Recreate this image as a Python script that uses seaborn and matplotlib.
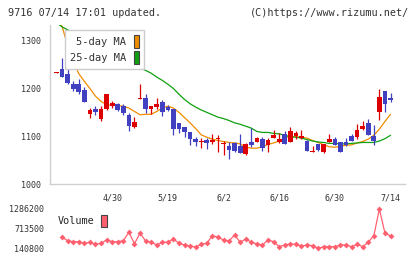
import numpy as np
import matplotlib
matplotlib.use("Agg")
import matplotlib.pyplot as plt
from matplotlib.patches import Patch
import seaborn as sns

# trading day index 0..60, labels every 10 days
days = np.arange(61)
date_pos = [10, 20, 30, 40, 50, 60]
date_labels = ["4/30", "5/19", "6/2", "6/16", "6/30", "7/14"]

opens = [1233, 1241, 1231, 1209, 1209, 1197, 1147, 1157, 1137, 1158,
         1164, 1168, 1164, 1145, 1120, 1178, 1180, 1158, 1161, 1172,
         1161, 1157, 1128, 1120, 1109, 1094, 1087, 1092, 1089, 1095,
         1083, 1080, 1085, 1080, 1063, 1088, 1089, 1095, 1081, 1097,
         1089, 1104, 1087, 1101, 1097, 1090, 1067, 1084, 1068, 1089,
         1094, 1088, 1088, 1101, 1099, 1115, 1127, 1101, 1150, 1195,
         1180]
closes = [1235, 1225, 1212, 1198, 1192, 1171, 1154, 1150, 1157, 1189,
          1170, 1154, 1148, 1122, 1130, 1181, 1157, 1164, 1168, 1150,
          1154, 1116, 1116, 1108, 1094, 1089, 1088, 1085, 1090, 1096,
          1084, 1071, 1069, 1065, 1084, 1082, 1096, 1076, 1092, 1103,
          1094, 1084, 1111, 1106, 1100, 1069, 1068, 1071, 1084, 1094,
          1082, 1066, 1082, 1091, 1113, 1122, 1103, 1090, 1182, 1168,
          1176]
highs = [1235, 1264, 1241, 1216, 1220, 1204, 1159, 1163, 1163, 1189,
         1173, 1169, 1167, 1149, 1140, 1210, 1189, 1164, 1180, 1176,
         1165, 1157, 1128, 1120, 1109, 1098, 1096, 1096, 1105, 1102,
         1091, 1089, 1088, 1104, 1085, 1118, 1099, 1099, 1096, 1113,
         1106, 1112, 1120, 1111, 1113, 1092, 1080, 1084, 1084, 1105,
         1099, 1088, 1096, 1105, 1126, 1132, 1136, 1124, 1199, 1195,
         1191]
lows = [1233, 1224, 1209, 1194, 1189, 1171, 1139, 1145, 1131, 1154,
        1159, 1153, 1145, 1110, 1118, 1177, 1148, 1147, 1158, 1143,
        1153, 1103, 1106, 1098, 1082, 1080, 1076, 1073, 1083, 1067,
        1061, 1053, 1068, 1064, 1061, 1078, 1088, 1070, 1068, 1096,
        1086, 1083, 1087, 1094, 1094, 1069, 1067, 1070, 1064, 1088,
        1082, 1066, 1080, 1091, 1095, 1114, 1103, 1082, 1135, 1151,
        1172]

ma5 = [1350, 1330, 1290, 1258, 1231, 1215, 1200, 1184, 1173, 1166,
       1165, 1164, 1163, 1159, 1152, 1145, 1146, 1146, 1152, 1159,
       1163, 1159, 1150, 1139, 1128, 1116, 1103, 1098, 1094, 1091,
       1089, 1087, 1086, 1084, 1077, 1075, 1075, 1078, 1083, 1086,
       1090, 1097, 1100, 1099, 1098, 1096, 1091, 1087, 1082, 1078,
       1077, 1079, 1081, 1082, 1086, 1089, 1094, 1102, 1115, 1131,
       1146]
ma25 = [1338, 1329, 1323, 1317, 1312, 1305, 1298, 1293, 1287, 1280,
        1275, 1268, 1261, 1255, 1249, 1243, 1238, 1232, 1224, 1217,
        1209, 1200, 1188, 1177, 1168, 1161, 1155, 1150, 1145, 1140,
        1137, 1133, 1128, 1125, 1121, 1117, 1110, 1108, 1108, 1106,
        1105, 1102, 1099, 1098, 1096, 1093, 1090, 1088, 1087, 1085,
        1085, 1084, 1084, 1085, 1086, 1087, 1087, 1087, 1090, 1095,
        1102]

vol_days = np.arange(1, 61)
volume = [463000, 363000, 334000, 334000, 287000, 317000, 258000, 287000, 384000, 334000,
          334000, 363000, 609000, 276000, 580000, 355000, 317000, 238000, 317000, 317000,
          413000, 287000, 238000, 208000, 179000, 258000, 287000, 510000, 463000, 384000,
          355000, 530000, 317000, 413000, 317000, 267000, 238000, 384000, 334000, 188000,
          238000, 267000, 258000, 208000, 238000, 218000, 140800, 188000, 188000, 188000,
          238000, 238000, 188000, 258000, 188000, 317000, 510000, 1286200, 580000, 501000]

UP = "#dc0000"
DOWN = "#4040c0"
ORANGE = "#f08c00"
GREEN = "#10a010"
VOLC = "#ff6070"
GRID = "#d0d0d0"
TXT = "#333333"

sns.set_style("white")
plt.rcParams["font.family"] = ["DejaVu Sans Mono"]

fig = plt.figure(figsize=(4.2, 2.59), dpi=100)
ax = fig.add_axes([50 / 420, 1 - 184 / 259, 355 / 420, 159 / 259])
axv = fig.add_axes([50 / 420, 1 - 248.3 / 259, 355 / 420, 39.3 / 259])

xlim = (-1.17, 62.6)

# moving averages
sns.lineplot(x=days, y=ma5, ax=ax, color=ORANGE, lw=0.9, zorder=2)
sns.lineplot(x=days, y=ma25, ax=ax, color=GREEN, lw=0.9, zorder=2)

# candles
o = np.array(opens, float)
c = np.array(closes, float)
cols = [UP if cc >= oo else DOWN for oo, cc in zip(o, c)]
body = np.maximum(np.abs(c - o), 2.2)
ax.vlines(days, lows, highs, colors=cols, lw=0.9, zorder=3)
ax.bar(days, body, bottom=np.minimum(o, c), width=0.84, color=cols,
       linewidth=0, zorder=4)

ax.set_xlim(*xlim)
ax.set_ylim(1000, 1333)
ax.set_yticks([1000, 1100, 1200, 1300])
ax.set_xticks(np.linspace(xlim[0], xlim[1], 12)[1:])
ax.set_xticklabels([])
ax.set_xticks(date_pos, labels=date_labels, minor=True)
ax.tick_params(axis="y", which="major", direction="inout", length=6.5,
               width=0.9, color=GRID, pad=3.5, labelsize=6, labelcolor=TXT)
ax.tick_params(axis="x", which="major", direction="inout", length=4.5,
               width=0.9, color=GRID)
ax.tick_params(axis="x", which="minor", length=0, pad=7, labelsize=6,
               labelcolor=TXT, bottom=True)
for s in ["top", "right"]:
    ax.spines[s].set_visible(False)
for s in ["left", "bottom"]:
    ax.spines[s].set_color(GRID)
    ax.spines[s].set_linewidth(1.0)
ax.set_xlabel("")
ax.set_ylabel("")

leg = fig.legend(handles=[Patch(facecolor=ORANGE, edgecolor="#444444", lw=0.8, label="5-day MA"),
                          Patch(facecolor=GREEN, edgecolor="#444444", lw=0.8, label="25-day MA")],
                 loc="upper left", bbox_to_anchor=(65 / 420, 1 - 30 / 259),
                 borderaxespad=0, markerfirst=False, fontsize=7.5,
                 handlelength=0.55, handleheight=1.6, handletextpad=0.75,
                 labelspacing=0.25, borderpad=0.45, fancybox=False,
                 framealpha=1, edgecolor="#cccccc")
leg.get_frame().set_linewidth(1.0)
for t in leg.get_texts():
    t.set_color(TXT)

# volume panel
sns.lineplot(x=vol_days, y=volume, ax=axv, color=VOLC, lw=0.9,
             marker="D", markersize=3.0, markeredgewidth=0, clip_on=False)
axv.set_xlim(*xlim)
axv.set_ylim(140800, 1286200)
axv.set_yticks([140800, 713500, 1286200])
axv.set_yticklabels(["140800", "713500", "1286200"])
axv.set_xticks([])
axv.tick_params(axis="y", length=0, pad=4.3, labelsize=6, labelcolor=TXT)
for s in axv.spines.values():
    s.set_visible(False)
axv.set_xlabel("")
axv.set_ylabel("")
axv.patch.set_alpha(0)

fig.legend(handles=[Patch(facecolor=VOLC, edgecolor="#444444", lw=0.8, label="Volume")],
           loc="center left", bbox_to_anchor=(56 / 420, 1 - 221 / 259),
           borderaxespad=0, frameon=False, markerfirst=False, fontsize=7.3,
           handlelength=0.65, handleheight=1.5, handletextpad=0.6, borderpad=0.2)

fig.text(8 / 420, 1 - 13 / 259, "9716 07/14 17:01 updated.", ha="left",
         va="center", fontsize=7.3, color=TXT)
fig.text(409 / 420, 1 - 13 / 259, "(C)https://www.rizumu.net/", ha="right",
         va="center", fontsize=7.3, color=TXT)

fig.savefig("out.png", dpi=100)
